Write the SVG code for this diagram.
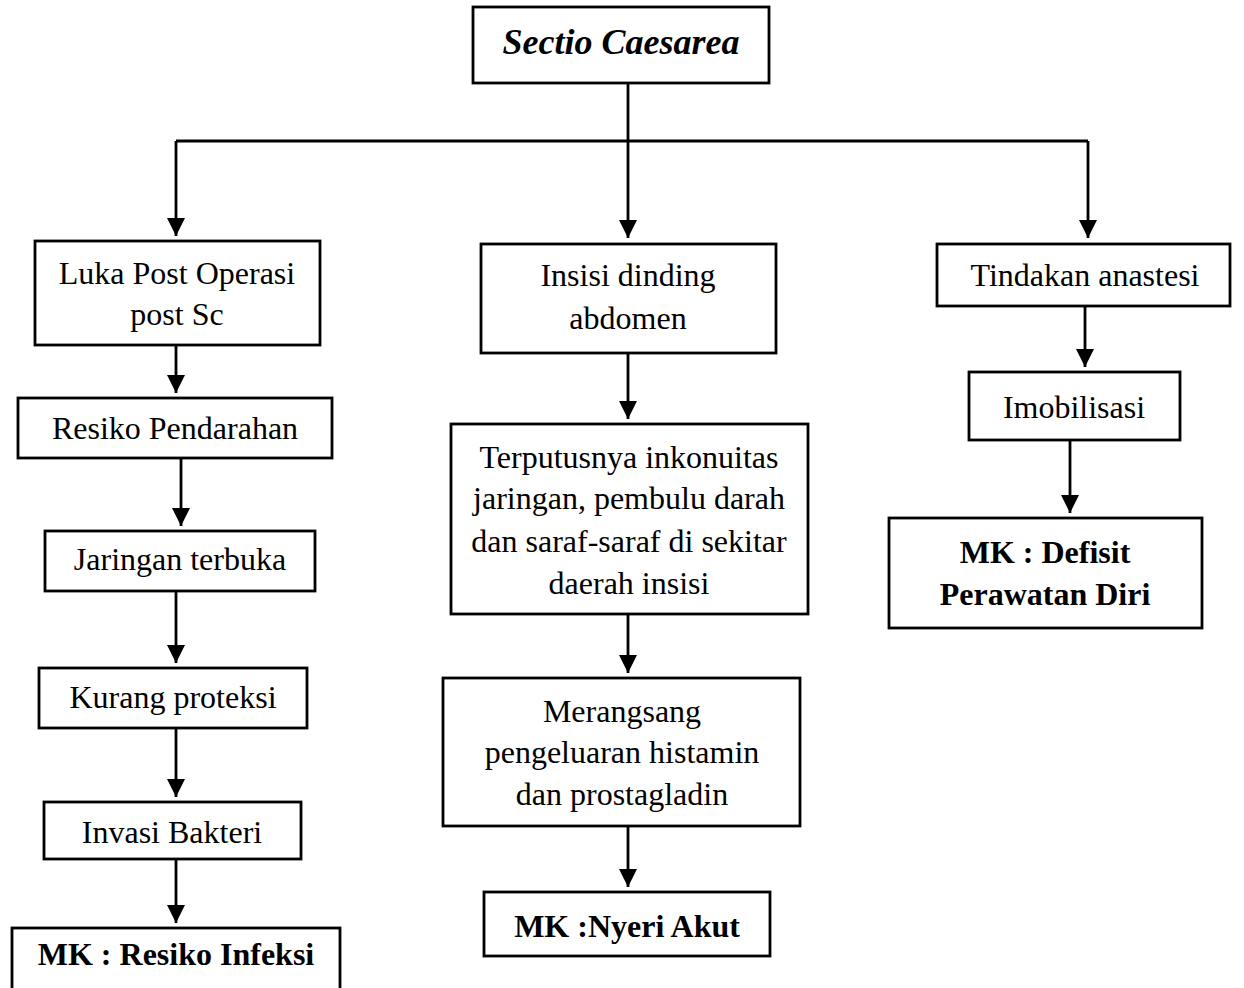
<svg xmlns="http://www.w3.org/2000/svg" width="1244" height="988" viewBox="0 0 1244 988">
<style>
.box{fill:#fff;stroke:#000;stroke-width:2.8}
.t{font-family:"Liberation Serif","Times New Roman",serif;font-size:32px;text-anchor:middle;fill:#000}
.b{font-weight:bold}
.c{fill:none;stroke:#000;stroke-width:2.8}
</style>
<defs>
<marker id="ah" markerUnits="userSpaceOnUse" markerWidth="18" markerHeight="20" refX="18" refY="9" orient="auto" viewBox="0 0 18 18">
<path d="M0,0 L18,9 L0,18 Z" fill="#000"/>
</marker>
</defs>
<rect width="1244" height="988" fill="#fff"/>
<g id="connectors">
<polyline class="c" points="628,83 628,141"/>
<polyline class="c" points="176,141 1088,141"/>
<line class="c" x1="176" y1="141" x2="176" y2="236" marker-end="url(#ah)"/>
<line class="c" x1="628" y1="141" x2="628" y2="238" marker-end="url(#ah)"/>
<line class="c" x1="1088" y1="141" x2="1088" y2="238" marker-end="url(#ah)"/>
<line class="c" x1="176" y1="345" x2="176" y2="393" marker-end="url(#ah)"/>
<line class="c" x1="181" y1="458" x2="181" y2="526" marker-end="url(#ah)"/>
<line class="c" x1="176" y1="591" x2="176" y2="663" marker-end="url(#ah)"/>
<line class="c" x1="176" y1="728" x2="176" y2="797" marker-end="url(#ah)"/>
<line class="c" x1="176" y1="859" x2="176" y2="923" marker-end="url(#ah)"/>
<line class="c" x1="628" y1="353" x2="628" y2="419" marker-end="url(#ah)"/>
<line class="c" x1="628" y1="614" x2="628" y2="673" marker-end="url(#ah)"/>
<line class="c" x1="628" y1="826" x2="628" y2="887" marker-end="url(#ah)"/>
<line class="c" x1="1085" y1="306" x2="1085" y2="367" marker-end="url(#ah)"/>
<line class="c" x1="1070" y1="440" x2="1070" y2="513" marker-end="url(#ah)"/>
</g>
<g id="n-title">
<rect class="box" x="473" y="7" width="296" height="76"/>
<text class="t b" x="621" y="54" style="font-style:italic;font-size:36px">Sectio Caesarea</text>
</g>
<g id="n-luka">
<rect class="box" x="35" y="241" width="285" height="104"/>
<text class="t" x="177" y="284">Luka Post Operasi</text>
<text class="t" x="177" y="325">post Sc</text>
</g>
<g id="n-resiko">
<rect class="box" x="18" y="398" width="314" height="60"/>
<text class="t" x="175" y="439">Resiko Pendarahan</text>
</g>
<g id="n-jaringan">
<rect class="box" x="45" y="531" width="270" height="60"/>
<text class="t" x="180" y="570">Jaringan terbuka</text>
</g>
<g id="n-kurang">
<rect class="box" x="39" y="668" width="268" height="60"/>
<text class="t" x="173" y="708">Kurang proteksi</text>
</g>
<g id="n-invasi">
<rect class="box" x="44" y="802" width="257" height="57"/>
<text class="t" x="172" y="843">Invasi Bakteri</text>
</g>
<g id="n-mk-infeksi">
<rect class="box" x="12" y="928" width="328" height="64"/>
<text class="t b" x="176" y="965">MK : Resiko Infeksi</text>
</g>
<g id="n-insisi">
<rect class="box" x="481" y="244" width="295" height="109"/>
<text class="t" x="628" y="286">Insisi dinding</text>
<text class="t" x="628" y="329">abdomen</text>
</g>
<g id="n-terputus">
<rect class="box" x="451" y="424" width="357" height="190"/>
<text class="t" x="629" y="468">Terputusnya inkonuitas</text>
<text class="t" x="629" y="509">jaringan, pembulu darah</text>
<text class="t" x="629" y="552">dan saraf-saraf di sekitar</text>
<text class="t" x="629" y="594">daerah insisi</text>
</g>
<g id="n-merangsang">
<rect class="box" x="443" y="678" width="357" height="148"/>
<text class="t" x="622" y="722">Merangsang</text>
<text class="t" x="622" y="763">pengeluaran histamin</text>
<text class="t" x="622" y="805">dan prostagladin</text>
</g>
<g id="n-mk-nyeri">
<rect class="box" x="484" y="892" width="286" height="64"/>
<text class="t b" x="627" y="937">MK :Nyeri Akut</text>
</g>
<g id="n-tindakan">
<rect class="box" x="937" y="244" width="293" height="62"/>
<text class="t" x="1085" y="286">Tindakan anastesi</text>
</g>
<g id="n-imobilisasi">
<rect class="box" x="969" y="372" width="211" height="68"/>
<text class="t" x="1074" y="418">Imobilisasi</text>
</g>
<g id="n-mk-defisit">
<rect class="box" x="889" y="518" width="313" height="110"/>
<text class="t b" x="1045" y="563">MK : Defisit</text>
<text class="t b" x="1045" y="605">Perawatan Diri</text>
</g>
</svg>
